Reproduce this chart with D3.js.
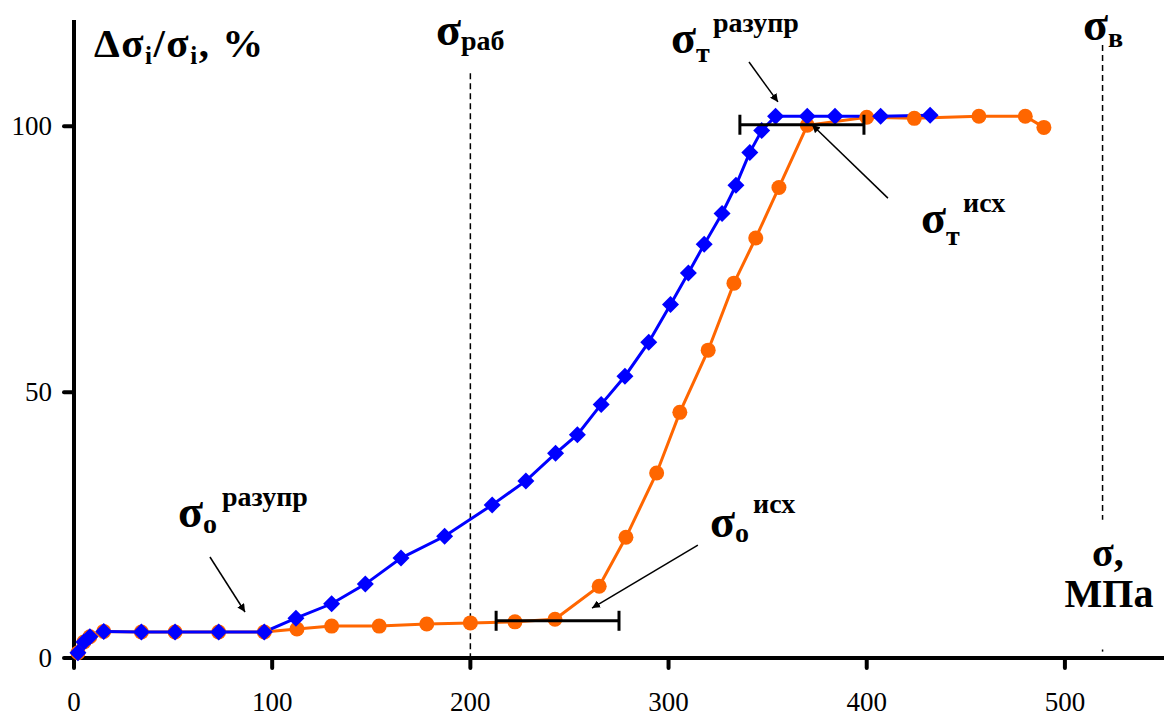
<!DOCTYPE html>
<meta charset="utf-8">
<title>Δσi/σi vs σ</title>
<style>
body { margin: 0; background: #fff; }
text { fill: #000; }
.tick-label { font-size: 27px; }
.lbl { font-weight: bold; }
.axis-line { stroke: #000; stroke-width: 4px; }
.tick { stroke: #000; stroke-width: 4px; stroke-linecap: round; }
.series { fill: none; stroke-width: 3px; }
.dash { stroke: #000; stroke-width: 1.5px; stroke-dasharray: 6,4; }
.errbar { stroke: #000; stroke-width: 3px; }
.arrow { stroke: #000; stroke-width: 1.5px; }
</style>
<body>
<script src="https://d3js.org/d3.v7.min.js"></script>
<script>

// sigma, MPa (x) and delta sigma_i / sigma_i, % (y)
var blueX = [2, 5, 8, 15, 34, 51, 73, 96, 112, 130, 147, 165, 187, 211, 228, 243, 254, 266, 278, 290, 301, 310, 318, 327, 334, 341, 347, 354, 370, 384, 407, 432];
var blueY = [1, 3, 4, 5, 4.9, 4.9, 4.9, 4.9, 7.5, 10.2, 13.9, 18.8, 22.9, 28.8, 33.3, 38.5, 42, 47.7, 53, 59.4, 66.5, 72.4, 77.8, 83.6, 88.9, 95.1, 99.2, 101.9, 101.9, 101.9, 101.9, 102.1];

var orangeX = [2, 5, 8, 15, 34, 51, 73, 96, 112.5, 130, 154, 178, 200, 222.5, 242.7, 265, 278.5, 294, 305.7, 320, 333, 344, 355.7, 370, 400, 424, 456.6, 480, 489.4];
var orangeY = [1, 3, 4, 5, 4.9, 4.9, 4.9, 4.9, 5.45, 6.0, 6.0, 6.4, 6.6, 6.8, 7.3, 13.5, 22.7, 34.8, 46.2, 57.9, 70.5, 79, 88.5, 100.2, 101.7, 101.5, 101.9, 101.9, 99.8];

// horizontal error bars: centre x, y, half width
var errX = [244, 367.3];
var errY = [7, 100.3];
var errHalf = [31, 31.3];

var xTicks = [0, 100, 200, 300, 400, 500];
var yTicks = [0, 50, 100];

// vertical dashed reference lines (sigma_rab, sigma_v)
var refX = [200, 519];
var refTop = [110, 115.3];
var refBottom = [0, 26];

var width = 1165, height = 716;
var serif = "'Liberation Serif', 'Times New Roman', Times, 'Nimbus Roman', Tinos, 'Noto Serif', 'DejaVu Serif', serif";

var svg = d3.select("body").append("svg")
    .attr("width", width)
    .attr("height", height);

var x = d3.scaleLinear().domain([0, 550]).range([74, 1164]);
var y = d3.scaleLinear().domain([0, 120]).range([658, 20]);

svg.append("defs").append("marker")
    .attr("id", "head")
    .attr("viewBox", "0 0 10 10")
    .attr("refX", 10).attr("refY", 5)
    .attr("markerWidth", 8).attr("markerHeight", 8)
    .attr("markerUnits", "userSpaceOnUse")
    .attr("orient", "auto")
  .append("path")
    .attr("d", "M0,0 L10,5 L0,10 z")
    .attr("fill", "#000");

// axes
svg.append("line").attr("class", "axis-line")
    .attr("x1", x(0)).attr("x2", x(0))
    .attr("y1", y(0)).attr("y2", y(120));
svg.append("line").attr("class", "axis-line")
    .attr("x1", x(0) - 9).attr("x2", x(550))
    .attr("y1", y(0)).attr("y2", y(0));

svg.selectAll(".xt").data(xTicks).enter().append("line")
    .attr("class", "tick")
    .attr("x1", d => x(d)).attr("x2", d => x(d))
    .attr("y1", y(0)).attr("y2", y(0) + 10);
svg.selectAll(".xl").data(xTicks).enter().append("text")
    .attr("class", "tick-label")
    .style("font-family", serif)
    .attr("x", d => x(d)).attr("y", y(0) + 53)
    .attr("text-anchor", "middle")
    .text(d => d);

svg.selectAll(".yt").data(yTicks).enter().append("line")
    .attr("class", "tick")
    .attr("x1", x(0) - 10).attr("x2", x(0))
    .attr("y1", d => y(d)).attr("y2", d => y(d));
svg.selectAll(".yl").data(yTicks).enter().append("text")
    .attr("class", "tick-label")
    .style("font-family", serif)
    .attr("x", x(0) - 22).attr("y", d => y(d) + 9)
    .attr("text-anchor", "end")
    .text(d => d);

// dashed reference lines
svg.selectAll(".dash").data(refX).enter().append("line")
    .attr("class", "dash")
    .attr("x1", d => x(d)).attr("x2", d => x(d))
    .attr("y1", (d, i) => y(refTop[i])).attr("y2", (d, i) => y(refBottom[i]));
svg.append("line").attr("class", "dash")
    .attr("x1", x(519)).attr("x2", x(519))
    .attr("y1", y(1.6)).attr("y2", y(1.2));

// series
var blue = blueX.map((d, i) => [d, blueY[i]]);
var orange = orangeX.map((d, i) => [d, orangeY[i]]);

var line = d3.line().x(d => x(d[0])).y(d => y(d[1]));

svg.append("path").datum(orange).attr("class", "series")
    .attr("stroke", "#ff6600").attr("d", line);
svg.append("path").datum(blue).attr("class", "series")
    .attr("stroke", "#0000ff").attr("d", line);

svg.selectAll(".dot").data(orange).enter().append("circle")
    .attr("cx", d => x(d[0])).attr("cy", d => y(d[1]))
    .attr("r", 7.5)
    .attr("fill", "#ff6600");

var dm = 8.5;
svg.selectAll(".dia").data(blue).enter().append("path")
    .attr("transform", d => "translate(" + x(d[0]) + "," + y(d[1]) + ")")
    .attr("d", "M0," + (-dm) + "L" + dm + ",0L0," + dm + "L" + (-dm) + ",0Z")
    .attr("fill", "#0000ff");

// error bars
errX.forEach(function(cx, i) {
  var g = svg.append("g");
  g.append("line").attr("class", "errbar")
      .attr("x1", x(cx - errHalf[i])).attr("x2", x(cx + errHalf[i]))
      .attr("y1", y(errY[i])).attr("y2", y(errY[i]));
  [cx - errHalf[i], cx + errHalf[i]].forEach(function(v) {
    g.append("line").attr("class", "errbar")
        .attr("x1", x(v)).attr("x2", x(v))
        .attr("y1", y(errY[i]) - 10).attr("y2", y(errY[i]) + 10);
  });
});

// arrows [from x, from y, to x, to y] in data units
var arrows = [
  [340.6, 112.1, 355.2, 104.6],
  [410.7, 86.5, 372.4, 100.3],
  [68.6, 19.0, 86.3, 8.65],
  [314.8, 21.25, 261.4, 9.4]
];
svg.selectAll(".arrow").data(arrows).enter().append("line")
    .attr("class", "arrow")
    .attr("x1", d => x(d[0])).attr("y1", d => y(d[1]))
    .attr("x2", d => x(d[2])).attr("y2", d => y(d[3]))
    .attr("marker-end", "url(#head)");

// labels
function sigmaLabel(px, py, sub, subDy, sup, supX, supY) {
  var t = svg.append("text").attr("class", "lbl").style("font-family", serif)
      .attr("x", px).attr("y", py);
  t.append("tspan").attr("font-size", 46).text("σ");
  if (sub) t.append("tspan").attr("font-size", 28).attr("dy", subDy).text(sub);
  if (sup) {
    svg.append("text").attr("class", "lbl").style("font-family", serif)
        .attr("x", supX).attr("y", supY)
        .attr("font-size", 28).text(sup);
  }
}

sigmaLabel(436, 45, "раб", 5);
sigmaLabel(671, 53, "т", 9, "разупр", 713, 32);
sigmaLabel(921, 233, "т", 12, "исх", 963, 212);
sigmaLabel(178, 527, "о", 6, "разупр", 222, 506);
sigmaLabel(710, 537, "о", 5, "исх", 753, 513);
sigmaLabel(1083, 40, "в", 7);

var yl = svg.append("text").attr("class", "lbl").style("font-family", serif)
    .attr("x", 94).attr("y", 57).attr("font-size", 41)
    .attr("letter-spacing", 1.5);
yl.append("tspan").text("Δσ");
yl.append("tspan").attr("font-size", 25).attr("dy", 7).text("i");
yl.append("tspan").attr("dy", -7).text("/σ");
yl.append("tspan").attr("font-size", 25).attr("dy", 7).text("i");
yl.append("tspan").attr("dy", -7).text(", %");

svg.append("text").attr("class", "lbl").style("font-family", serif)
    .attr("x", 1108).attr("y", 566).attr("font-size", 40)
    .attr("text-anchor", "middle").text("σ,");
svg.append("text").attr("class", "lbl").style("font-family", serif)
    .attr("x", 1109).attr("y", 607).attr("font-size", 40)
    .attr("text-anchor", "middle").text("МПа");

</script>
</body>
</html>
